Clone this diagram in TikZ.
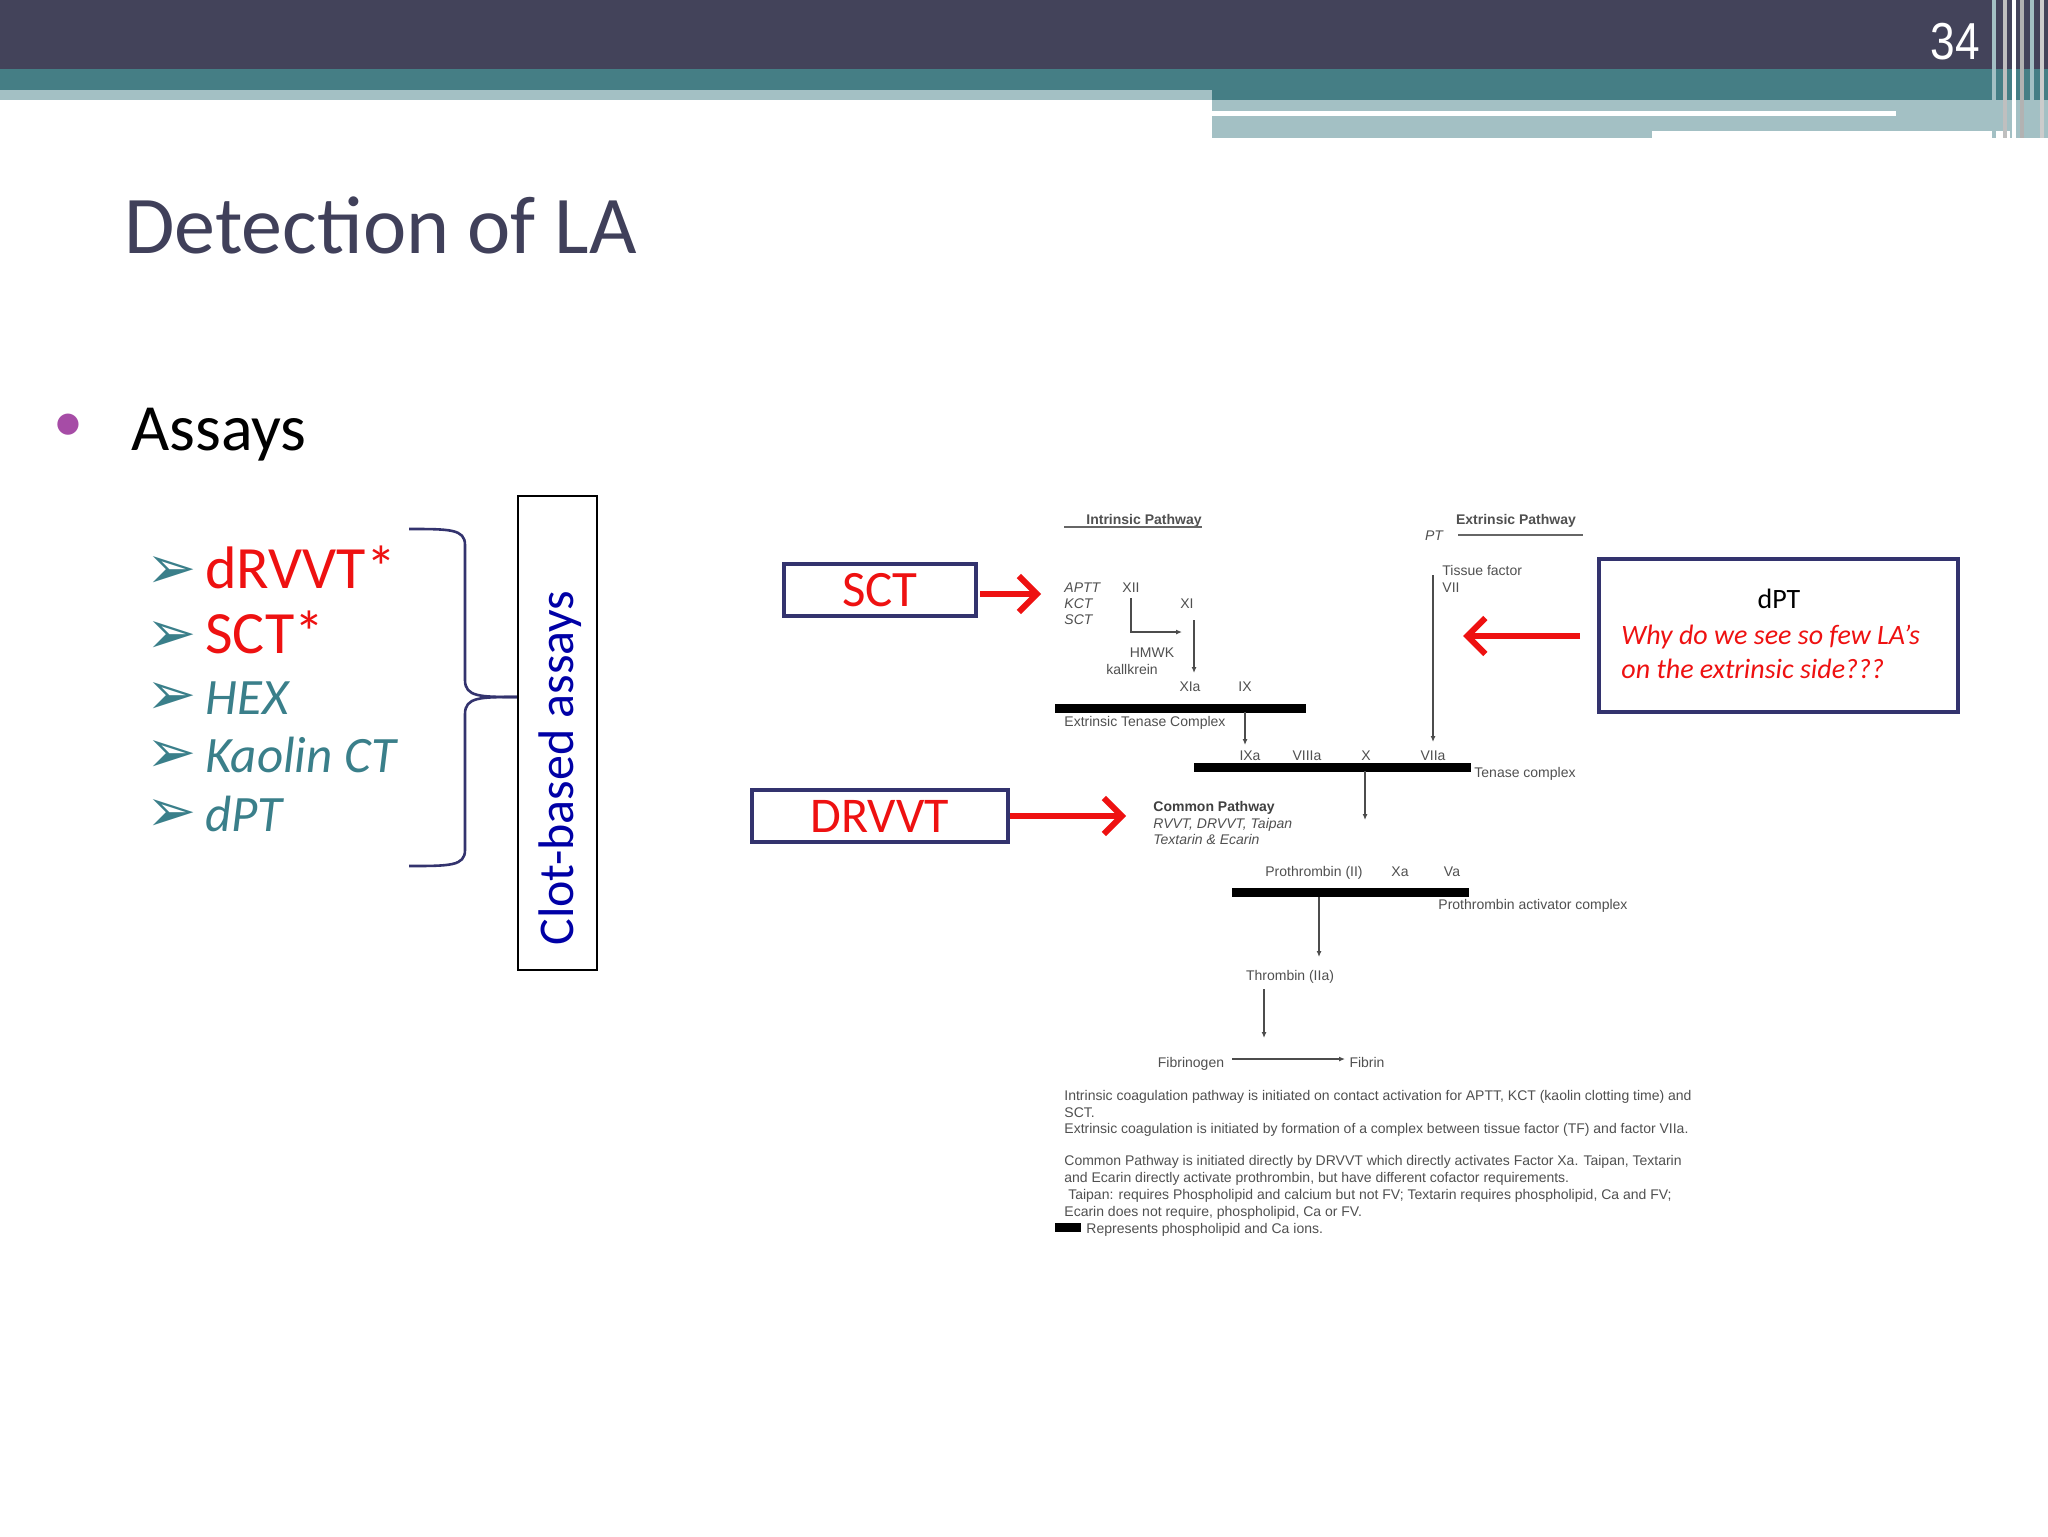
\documentclass[tikz,border=0pt]{standalone}
\usepackage{fontspec}
\setmainfont{Carlito}
\newfontfamily\djfont{DejaVu Sans}
\newfontfamily\arfont{Liberation Sans}
\usetikzlibrary{arrows.meta}
\definecolor{hdark}{HTML}{43435A}
\definecolor{hteal}{HTML}{457E85}
\definecolor{hlight}{HTML}{A3C0C4}
\definecolor{ttl}{HTML}{40405A}
\definecolor{tealtxt}{HTML}{3A7F8A}
\definecolor{navy}{HTML}{33336E}
\definecolor{rd}{HTML}{EE1111}
\definecolor{lbl}{HTML}{505050}
\tikzset{
  lab/.style={font=\arfont\fontsize{7}{8}\selectfont,text=lbl,inner sep=0pt,anchor=base},
  labw/.style={lab,anchor=base west},
  bl/.style={font=\arfont\bfseries\fontsize{7}{8}\selectfont},
  il/.style={font=\arfont\itshape\fontsize{7}{8}\selectfont},
  para/.style={font=\arfont\fontsize{7}{8}\selectfont,text=lbl,inner sep=0pt,anchor=base west},
  bar/.style={line width=4.5pt},
  thin/.style={draw=black!70,line width=0.6pt,-{Latex[length=3pt,width=2.5pt]}},
  redarr/.style={draw=rd,line width=3.3pt,-{Straight Barb[length=9pt,width=18pt,line width=3pt]}},
  box/.style={draw=navy,line width=1.6pt,inner sep=0pt},
  item/.style={anchor=base west,inner sep=0pt},
  chev/.style={anchor=base west,inner sep=0pt,text=tealtxt,font=\djfont\fontsize{30}{30}\selectfont},
}
\begin{document}
\begin{tikzpicture}[x=0.5pt,y=-0.5pt]
\useasboundingbox (0,0) rectangle (2048,1536);
\fill[white] (0,0) rectangle (2048,1536);
% header
\fill[hdark] (0,0) rectangle (2048,69);
\fill[hteal] (0,69) rectangle (2048,90);
\fill[hlight] (0,90) rectangle (1212,100);
\fill[hteal] (1212,90) rectangle (2048,100);
\fill[hlight] (1212,100) rectangle (2048,138);
\fill[white] (1212,111) rectangle (1896,116);
\fill[white] (1652,131) rectangle (2010,139);
\foreach \xx/\cc in {1992/hlight,2003/gray!50,2012/white,2020/gray!60,2030/hlight,2040/gray!40}
  \fill[\cc] (\xx,0) rectangle (\xx+4,138);
\node[text=white,font=\arfont\fontsize{26}{30}\selectfont,xscale=0.85,anchor=base east,inner sep=0pt] (num) at (1980,60) {34};
% title
\node[text=ttl,font=\fontsize{41}{48}\selectfont,anchor=base west,inner sep=0pt] (title) at (124,253) {Detection of LA};
\node[text=violet!70,font=\fontsize{30}{30}\selectfont,inner sep=0pt] (bul) at (68,428) {•};
\node[font=\fontsize{33}{40}\selectfont,anchor=base west,inner sep=0pt] (assays) at (131,450) {Assays};
% list
\foreach \yy/\nm in {588/c1,653/c2,714/c3,772/c4,831/c5}
  \node[chev] (\nm) at (146,\yy) {➢};
\node[item,text=rd,font=\fontsize{30}{36}\selectfont] (i1) at (205,588) {dRVVT*};
\node[item,text=rd,font=\fontsize{30}{36}\selectfont] (i2) at (205,653) {SCT*};
\node[item,text=tealtxt,font=\itshape\fontsize{25.5}{30}\selectfont] (i3) at (205,714) {HEX};
\node[item,text=tealtxt,font=\itshape\fontsize{25.5}{30}\selectfont] (i4) at (205,772) {Kaolin CT};
\node[item,text=tealtxt,font=\itshape\fontsize{25.5}{30}\selectfont] (i5) at (205,831) {dPT};
% brace
\draw[navy,line width=1.3pt] (409,529) .. controls (450,529) and (465,529) .. (465,545) -- (465,680) .. controls (465,697) and (480,697) .. (518,697);
\draw[navy,line width=1.3pt] (409,866) .. controls (450,866) and (465,866) .. (465,850) -- (465,714) .. controls (465,697) and (480,697) .. (518,697);
\draw[black,line width=1.3pt] (518,496) rectangle (597,970);
\node[rotate=90,text=blue!65!black,font=\fontsize{25}{30}\selectfont,inner sep=0pt] (clot) at (560,768) {Clot-based assays};
% SCT / DRVVT boxes
\node[box,minimum width=96pt,minimum height=26pt,text=rd,font=\fontsize{25.5}{30}\selectfont] (sct) at (880,590) {SCT};
\node[box,minimum width=128pt,minimum height=26pt,text=rd,font=\fontsize{25}{30}\selectfont] (drvvt) at (880,816) {DRVVT};
\coordinate (sctS) at (980,594);
\coordinate (sctT) at (1041,594);
\coordinate (drvT) at (1126,816);
\draw[redarr] (sctS) -- (sctT);
\draw[redarr] (drvvt.east) -- (drvT);
% dPT box
\node[box,minimum width=179.5pt,minimum height=76.5pt] (dptbox) at (1778.5,635.5) {};
\node[font=\fontsize{14}{17}\selectfont,inner sep=0pt,anchor=base] (dpt) at (1779,608) {dPT};
\node[text=rd,font=\itshape\fontsize{14}{17}\selectfont,inner sep=0pt,anchor=base west] (why1) at (1621,644) {Why do we see so few LA’s};
\node[text=rd,font=\itshape\fontsize{14}{17}\selectfont,inner sep=0pt,anchor=base west] (why2) at (1621,678) {on the extrinsic side???};
\coordinate (dptS) at (1580,636);
\coordinate (dptT) at (1463,636);
\draw[redarr] (dptS) -- (dptT);
% pathway diagram
\node[lab,bl] (intr) at (1144,524) {Intrinsic Pathway};
\draw[black!60,line width=0.8pt] (1064,527) -- (1202,527);
\node[lab,bl] (extr) at (1516,524) {Extrinsic Pathway};
\draw[black!60,line width=0.8pt] (1458,535) -- (1583,535);
\node[lab,il] (pt) at (1434,540) {PT};
\node[labw,il] (aptt) at (1064,592) {APTT};
\node[labw,il] (kct) at (1064,608) {KCT};
\node[labw,il] (sct2) at (1064,624) {SCT};
\node[lab] (xii) at (1131,592) {XII};
\node[lab] (xi) at (1187,608) {XI};
\coordinate (xiiS) at (1131,598);
\coordinate (xiiT) at (1182,632);
\draw[thin] (xiiS) |- (xiiT);
\coordinate (xiS) at (1194,620);
\coordinate (xiaT) at (1194,673);
\draw[thin] (xiS) -- (xiaT);
\node[lab] (hmwk) at (1152,657) {HMWK};
\node[lab] (kall) at (1132,674) {kallkrein};
\node[lab] (xia) at (1190,691) {XIa};
\node[lab] (ix) at (1245,691) {IX};
\draw[bar] (1055,708) -- (1306,708);
\node[labw] (etc) at (1064,726) {Extrinsic Tenase Complex};
\coordinate (ixS) at (1245,712);
\coordinate (ixaT) at (1245,745);
\draw[thin] (ixS) -- (ixaT);
\node[labw] (tf) at (1442,575) {Tissue factor};
\node[labw] (vii) at (1442,592) {VII};
\coordinate (tfS) at (1433,575);
\coordinate (viiaT) at (1433,742);
\draw[thin] (tfS) -- (viiaT);
\node[lab] (ixa) at (1250,760) {IXa};
\node[lab] (viiia) at (1307,760) {VIIIa};
\node[lab] (x) at (1366,760) {X};
\node[lab] (viia) at (1433,760) {VIIa};
\draw[bar] (1194,767) -- (1471,767);
\node[labw] (tc) at (1474,777) {Tenase complex};
\coordinate (xS) at (1365,771);
\coordinate (xT) at (1365,820);
\draw[thin] (xS) -- (xT);
\node[labw,bl,text=black!75] (cp) at (1153,811) {Common Pathway};
\node[labw,il] (cp2) at (1153,828) {RVVT, DRVVT, Taipan};
\node[labw,il] (cp3) at (1153,844) {Textarin \& Ecarin};
\node[lab] (pro) at (1314,876) {Prothrombin (II)};
\node[lab] (xa) at (1400,876) {Xa};
\node[lab] (va) at (1452,876) {Va};
\draw[bar] (1232,892) -- (1469,892);
\node[labw] (pac) at (1438,909) {Prothrombin activator complex};
\node[lab] (thr) at (1290,980) {Thrombin (IIa)};
\coordinate (proS) at (1319,897);
\coordinate (thrT) at (1319,957);
\draw[thin] (proS) -- (thrT);
\node[lab] (fbg) at (1191,1067) {Fibrinogen};
\node[lab] (fib) at (1367,1067) {Fibrin};
\coordinate (thrS) at (1264,989);
\coordinate (fbgT) at (1264,1038);
\draw[thin] (thrS) -- (fbgT);
\coordinate (fbgS) at (1232,1059);
\coordinate (fibT) at (1345,1059);
\draw[thin] (fbgS) -- (fibT);
\node[para] (p1) at (1064,1100) {Intrinsic coagulation pathway is initiated on contact activation for APTT, KCT (kaolin clotting time) and};
\node[para] (p2) at (1064,1117) {SCT.};
\node[para] (p3) at (1064,1133) {Extrinsic coagulation is initiated by formation of a complex between tissue factor (TF) and factor VIIa.};
\node[para] (p4) at (1064,1165) {Common Pathway is initiated directly by DRVVT which directly activates Factor Xa. Taipan, Textarin};
\node[para] (p5) at (1064,1182) {and Ecarin directly activate prothrombin, but have different cofactor requirements.};
\node[para] (p6) at (1064,1199) {\ Taipan: requires Phospholipid and calcium but not FV; Textarin requires phospholipid, Ca and FV;};
\node[para] (p7) at (1064,1216) {Ecarin does not require, phospholipid, Ca or FV.};
\fill[black] (1055,1223) rectangle (1081,1232);
\node[para] (p8) at (1086,1233) {Represents phospholipid and Ca ions.};
\end{tikzpicture}
\end{document}
